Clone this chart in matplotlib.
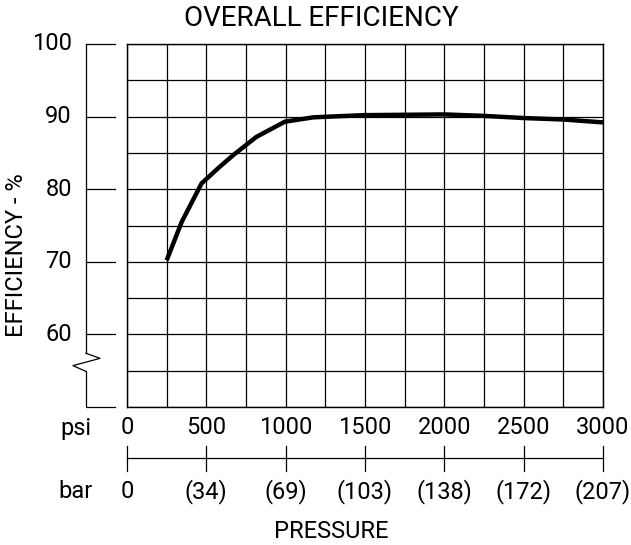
import matplotlib
matplotlib.use('Agg')
import matplotlib.pyplot as plt
import matplotlib.transforms as mtransforms
import numpy as np

plt.rcParams['font.family'] = ['Roboto', 'DejaVu Sans']

# Curve
psi = [250, 345, 470, 585, 670, 815, 995, 1175, 1490, 2000, 2250, 2500, 2750, 3000]
efficiency = [70.2, 75.5, 80.8, 83.1, 84.7, 87.2, 89.3, 89.9, 90.2, 90.3, 90.1, 89.8, 89.6, 89.2]

# Axis labels
psi_ticks = [0, 500, 1000, 1500, 2000, 2500, 3000]
psi_labels = ['0', '500', '1000', '1500', '2000', '2500', '3000']
bar_labels = ['0', '(34)', '(69)', '(103)', '(138)', '(172)', '(207)']
eff_ticks = [60, 70, 80, 90, 100]

fig = plt.figure(figsize=(6.31, 5.45), dpi=100)
ax = fig.add_axes([127/631, 1 - 407/545, 476/631, 363/545])

ax.set_xlim(0, 3000)
ax.set_ylim(50, 100)
ax.set_xticks(np.arange(0, 3001, 250))
ax.set_yticks(np.arange(50, 101, 5))
ax.tick_params(length=0, labelbottom=False, labelleft=False)
ax.grid(True, color='black', linewidth=0.9)
for s in ax.spines.values():
    s.set_linewidth(1.0)

ax.plot(psi, efficiency, color='black', linewidth=3.2, solid_capstyle='butt', zorder=3)

fy = lambda py: 1 - py / 545
fig.text(321/631, fy(19), 'OVERALL EFFICIENCY', ha='center', va='center', fontsize=20)

# Left scale with break mark
yt = mtransforms.blended_transform_factory(ax.transAxes, ax.transData)
sx = (86 - 127) / 476
tx = (115 - 127) / 476
lab_x = (72 - 127) / 476
kw = dict(color='black', linewidth=0.9, clip_on=False, transform=yt)
ax.plot([sx, sx], [100, 57.4], **kw)
ax.plot([sx, (100 - 127) / 476, (73 - 127) / 476, sx], [57.4, 56.7, 55.7, 54.9], **kw)
ax.plot([sx, sx, tx], [54.9, 50, 50], **kw)
for v in eff_ticks:
    ax.plot([sx, tx], [v, v], **kw)
    ax.text(lab_x, v, str(v), transform=yt, ha='right', va='center', fontsize=17)
ax.text(-0.233, 70.9, 'EFFICIENCY - %', transform=yt, rotation=90,
        ha='center', va='center', fontsize=17)

# psi and bar scales below
xt = mtransforms.blended_transform_factory(ax.transData, fig.transFigure)
for p, l in zip(psi_ticks, psi_labels):
    ax.text(p, fy(428), l, transform=xt, ha='center', va='center', fontsize=17)
for p, l in zip(psi_ticks, bar_labels):
    ax.text(p, fy(492), l, transform=xt, ha='center', va='center', fontsize=17)
    ax.plot([p, p], [fy(446), fy(471)], color='black', linewidth=0.9,
            transform=xt, clip_on=False)
ax.plot([0, 3000], [fy(458), fy(458)], color='black', linewidth=0.9,
        transform=xt, clip_on=False)
fig.text(76/631, fy(428), 'psi', ha='center', va='center', fontsize=17)
fig.text(76/631, fy(492), 'bar', ha='center', va='center', fontsize=17)
fig.text(331/631, fy(532), 'PRESSURE', ha='center', va='center', fontsize=17)

fig.savefig('out.png', dpi=100)
